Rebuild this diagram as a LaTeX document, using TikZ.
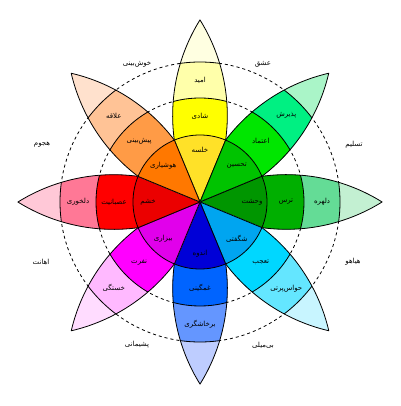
\documentclass[tikz,border=0pt]{standalone}
\usepackage{fontspec}
\newfontfamily\fafont[Script=Arabic]{DejaVu Sans}
\TeXXeTstate=1
\newcommand{\rl}[1]{\beginR#1\endR}

% joy
\definecolor{yA}{RGB}{255,255,225}\definecolor{yB}{RGB}{255,255,170}
\definecolor{yC}{RGB}{255,255,0}\definecolor{yD}{RGB}{255,225,40}
% trust
\definecolor{gA}{RGB}{170,245,200}\definecolor{gB}{RGB}{0,240,130}
\definecolor{gC}{RGB}{0,230,0}\definecolor{gD}{RGB}{0,195,0}
% fear
\definecolor{fA}{RGB}{195,240,210}\definecolor{fB}{RGB}{100,220,150}
\definecolor{fC}{RGB}{0,175,0}\definecolor{fD}{RGB}{0,150,0}
% surprise
\definecolor{cA}{RGB}{200,245,255}\definecolor{cB}{RGB}{100,230,255}
\definecolor{cC}{RGB}{0,215,255}\definecolor{cD}{RGB}{0,165,240}
% sadness
\definecolor{bA}{RGB}{190,205,255}\definecolor{bB}{RGB}{100,150,255}
\definecolor{bC}{RGB}{0,100,255}\definecolor{bD}{RGB}{0,0,215}
% disgust
\definecolor{mA}{RGB}{255,220,255}\definecolor{mB}{RGB}{255,185,255}
\definecolor{mC}{RGB}{255,0,255}\definecolor{mD}{RGB}{225,0,235}
% anger
\definecolor{rA}{RGB}{255,200,215}\definecolor{rB}{RGB}{255,120,150}
\definecolor{rC}{RGB}{255,0,0}\definecolor{rD}{RGB}{235,0,0}
% anticipation
\definecolor{oA}{RGB}{255,225,205}\definecolor{oB}{RGB}{255,195,150}
\definecolor{oC}{RGB}{255,155,70}\definecolor{oD}{RGB}{255,120,0}

\begin{document}
\begin{tikzpicture}[edge/.style={draw=black,line width=0.8pt,line join=round},
  ring/.style={draw=black,line width=0.8pt},
  guide/.style={draw=black,line width=0.8pt,dash pattern=on 3pt off 3pt},
  lbl/.style={font=\fafont\fontsize{7}{8}\selectfont,inner sep=1pt}]
\useasboundingbox (-200pt,-204pt) rectangle (200pt,202pt);

% dashed rings between the petals
\draw[guide] (0,0) circle[radius=140pt];
\draw[guide] (0,0) circle[radius=104pt];

% petals
\foreach \ang/\ca/\cb/\cc/\cd in {90/yA/yB/yC/yD,45/gA/gB/gC/gD,0/fA/fB/fC/fD,-45/cA/cB/cC/cD,
  -90/bA/bB/bC/bD,-135/mA/mB/mC/mD,180/rA/rB/rC/rD,135/oA/oB/oC/oD}{
\begin{scope}[rotate=\ang]
\begin{scope}
\clip (0,0) -- (-22.5:67pt) arc[start angle=-97.8,end angle=-58.1,radius=181pt]
  arc[start angle=58.1,end angle=97.8,radius=181pt] -- cycle;
\fill[\ca] (0,0) circle[radius=183pt];
\fill[\cb] (0,0) circle[radius=140pt];
\fill[\cc] (0,0) circle[radius=104pt];
\fill[\cd] (0,0) circle[radius=67pt];
\draw[ring] (0,0) circle[radius=140pt] (0,0) circle[radius=104pt] (0,0) circle[radius=67pt];
\end{scope}
\draw[edge] (0,0) -- (-22.5:67pt) arc[start angle=-97.8,end angle=-58.1,radius=181pt]
  arc[start angle=58.1,end angle=97.8,radius=181pt] -- cycle;
\end{scope}
}

% emotions
\foreach \ang/\ti/\tm/\to in {90/خلسه/شادی/امید,45/تحسین/اعتماد/پذیرش,0/وحشت/ترس/دلهره,
  -45/شگفتی/تعجب/حواس‌پرتی,-90/اندوه/غمگینی/برخاشگری,-135/بیزاری/نفرت/خستگی,
  180/خشم/عصبانیت/دلخوری,135/هوشیاری/پیش‌بینی/علاقه}{
\node[lbl] (in\ang) at (\ang:52pt) {\rl{\ti}};
\node[lbl] (mid\ang) at (\ang:86pt) {\rl{\tm}};
\node[lbl] (out\ang) at (\ang:122pt) {\rl{\to}};
}

% dyads
\node[lbl] (love) at (63pt,138pt) {\rl{عشق}};
\node[lbl] (optimism) at (-63pt,138pt) {\rl{خوش‌بینی}};
\node[lbl] (submission) at (154pt,57pt) {\rl{تسلیم}};
\node[lbl] (aggression) at (-158pt,57pt) {\rl{هجوم}};
\node[lbl] (awe) at (153pt,-60pt) {\rl{هیاهو}};
\node[lbl] (contempt) at (-159pt,-60pt) {\rl{اهانت}};
\node[lbl] (disapproval) at (63pt,-143pt) {\rl{بی‌میلی}};
\node[lbl] (remorse) at (-63pt,-143pt) {\rl{پشیمانی}};
\end{tikzpicture}
\end{document}
